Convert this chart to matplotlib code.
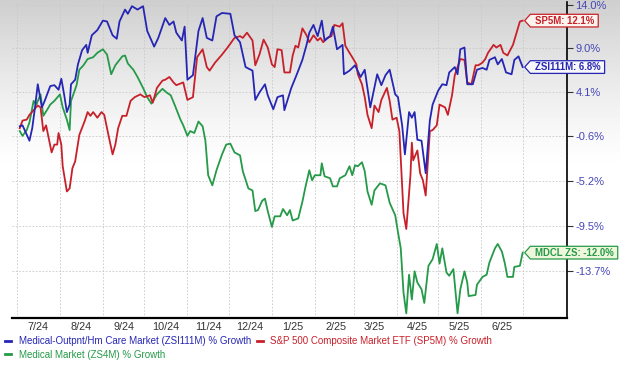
import numpy as np
import pandas as pd
import matplotlib
matplotlib.use("Agg")
import matplotlib.pyplot as plt
import matplotlib.dates as mdates
from matplotlib.path import Path
from matplotlib.ticker import FixedLocator

plt.rcParams['font.family'] = ['Liberation Sans', 'DejaVu Sans']

# --- data: days since 2024-07-01, % growth ---
blue_days = [2, 4, 9, 11, 13, 15, 18, 20, 24, 27, 30, 32, 34, 36, 38, 39, 42, 44, 47, 50,
             51, 54, 58, 62, 65, 69, 72, 74, 78, 80, 83, 87, 91, 94, 99, 102, 107, 110, 113, 115,
             119, 121, 123, 127, 131, 134, 137, 141, 144, 148, 154, 157, 161, 165, 170, 172, 175, 179, 181, 185,
             188, 192, 193, 198, 202, 206, 209, 211, 214, 217, 220, 222, 226, 228, 231, 235, 236, 240, 244, 248,
             251, 255, 260, 263, 266, 269, 273, 275, 278, 280, 283, 285, 287, 289, 292, 295, 298, 300, 304, 307,
             310, 312, 316, 318, 320, 323, 325, 329, 332, 336, 339, 341, 345, 347, 350, 353, 357, 359, 362, 365]
blue_vals = [0.4, 0.5, -1.1, 0.2, 2.4, 4.9, 2.4, 3.1, 4.7, 4.8, 4.3, 5.5, 3.8, 1.9, 2.7, 4.9, 5.4, 7.1, 8.7, 9.3,
             8.4, 10.4, 11.0, 12.1, 12.0, 10.4, 10.0, 12.0, 13.4, 12.9, 13.8, 13.4, 13.8, 10.9, 9.1, 10.1, 12.4, 11.6, 12.0, 10.7,
             9.8, 11.4, 5.4, 5.9, 10.9, 12.4, 10.1, 9.8, 12.6, 13.0, 12.9, 10.4, 9.6, 6.8, 6.4, 3.2, 4.0, 4.9, 3.7, 2.2,
             3.5, 3.7, 2.1, 4.5, 6.0, 7.6, 9.3, 10.7, 11.6, 10.3, 12.1, 9.8, 10.3, 11.4, 8.8, 9.3, 6.0, 6.4, 7.0, 5.7,
             6.5, 2.4, 6.0, 4.8, 5.9, 6.5, 3.8, 3.5, 0.5, -2.5, 1.9, 1.3, 1.9, -1.0, -1.1, -4.4, 1.0, 2.7, 4.2, 4.9,
             4.8, 6.2, 6.8, 6.0, 8.8, 9.0, 4.9, 4.9, 6.5, 6.7, 6.5, 7.6, 7.9, 7.1, 7.7, 6.2, 6.0, 7.6, 8.0, 6.8]

red_days = [2, 4, 7, 9, 12, 15, 17, 19, 21, 25, 27, 29, 30, 32, 33, 36, 38, 40, 42, 45,
            49, 51, 53, 55, 58, 61, 63, 66, 69, 71, 73, 76, 79, 82, 85, 89, 92, 96, 98, 101,
            105, 107, 110, 113, 115, 120, 123, 127, 130, 134, 137, 139, 143, 148, 152, 157, 161, 163, 166, 170,
            172, 175, 178, 181, 184, 186, 188, 191, 193, 197, 199, 201, 203, 206, 209, 211, 214, 217, 219, 221,
            224, 227, 229, 233, 235, 237, 240, 242, 245, 246, 249, 251, 253, 256, 258, 261, 263, 267, 269, 271,
            274, 276, 279, 281, 284, 285, 286, 289, 291, 293, 295, 298, 300, 303, 305, 309, 311, 314, 316, 320,
            323, 325, 328, 331, 333, 336, 338, 340, 344, 346, 349, 351, 354, 358, 361, 363, 365]
red_vals = [0.2, 1.0, 1.1, 1.6, 2.1, 2.6, 2.4, -0.1, 0.5, -2.3, -1.5, -1.5, -0.3, -1.5, -3.7, -6.2, -5.9, -3.9, -3.2, -0.5,
            1.0, 1.9, 1.5, 1.9, 1.3, 1.9, 1.6, -0.5, -2.5, -1.5, 0.2, 1.5, 1.5, 3.1, 3.5, 3.8, 3.5, 3.7, 2.9, 4.5,
            5.3, 5.4, 5.7, 5.1, 4.8, 5.1, 3.2, 3.5, 7.9, 8.8, 6.8, 6.4, 7.3, 8.2, 9.0, 10.1, 10.3, 10.1, 10.7, 9.8,
            7.0, 8.2, 9.9, 9.0, 7.1, 6.8, 8.8, 8.7, 6.2, 6.2, 8.1, 9.2, 9.0, 11.2, 10.4, 9.6, 10.4, 9.8, 10.1, 9.6,
            10.1, 10.3, 11.6, 11.4, 11.8, 9.2, 8.4, 7.9, 7.1, 6.0, 4.9, 3.5, 1.6, 0.2, 2.6, 1.9, 3.2, 4.5, 3.1, 1.1,
            1.3, -0.1, -8.3, -9.8, -4.6, -1.3, -3.1, -2.1, -4.4, -5.1, -6.6, -0.1, 0.0, 0.5, 2.7, 2.4, 1.6, 3.7, 5.9, 7.7,
            7.6, 5.1, 4.9, 7.0, 7.0, 7.3, 7.7, 8.4, 9.3, 9.0, 9.3, 8.4, 8.1, 9.3, 10.9, 12.0, 12.1]

green_days = [2, 4, 7, 9, 12, 14, 17, 19, 22, 24, 27, 31, 33, 36, 38, 39, 40, 43, 45, 48,
              51, 55, 58, 62, 65, 68, 71, 76, 78, 80, 84, 87, 91, 94, 97, 101, 105, 108, 111, 114,
              118, 120, 123, 125, 128, 131, 134, 136, 138, 141, 144, 148, 151, 154, 157, 161, 163, 167, 170, 172,
              174, 177, 179, 181, 184, 186, 190, 192, 195, 197, 199, 203, 206, 208, 211, 213, 215, 219, 220, 222,
              226, 228, 231, 233, 237, 240, 242, 244, 246, 249, 251, 253, 256, 258, 262, 266, 269, 273, 275, 277,
              279, 281, 283, 285, 287, 289, 292, 294, 297, 300, 303, 305, 307, 310, 312, 315, 318, 320, 323, 325,
              326, 331, 332, 336, 339, 341, 345, 347, 350, 352, 354, 358, 359, 363, 365]
green_vals = [-0.1, -0.6, 0.0, 0.8, 3.1, 2.7, 3.8, 1.5, 2.2, 2.7, 3.1, 3.8, 2.4, 1.1, 0.0, 3.1, 3.5, 4.8, 6.5, 7.0,
              7.7, 7.9, 8.4, 8.8, 8.2, 6.0, 7.0, 8.0, 8.1, 7.2, 6.5, 5.7, 4.5, 3.5, 2.8, 3.8, 4.4, 4.0, 3.7, 2.6,
              1.1, 0.5, -0.6, -0.1, -0.3, 0.9, 0.4, -1.1, -4.6, -5.6, -4.1, -2.5, -1.5, -1.4, -2.3, -2.6, -4.2, -5.9, -6.1, -8.1,
              -8.0, -7.1, -6.9, -8.1, -9.6, -8.6, -8.6, -7.9, -8.5, -8.0, -9.0, -8.8, -7.2, -5.9, -4.1, -5.1, -4.6, -4.6, -3.4, -4.7,
              -4.9, -5.7, -5.7, -4.9, -4.6, -3.7, -4.6, -3.6, -3.7, -3.3, -4.2, -6.2, -7.5, -6.1, -5.4, -5.6, -7.3, -8.5, -10.1, -11.6,
              -15.6, -17.4, -14.0, -16.2, -13.7, -14.7, -15.3, -16.5, -13.2, -12.6, -11.2, -13.0, -11.6, -13.8, -14.1, -13.5, -17.4, -15.3, -13.7, -14.7,
              -15.9, -15.8, -14.9, -14.2, -14.0, -12.9, -11.6, -11.2, -11.9, -12.9, -14.2, -14.2, -13.3, -13.2, -12.0]

ytick_vals = [14.0, 9.0, 4.1, -0.6, -5.2, -9.5, -13.7]
month_labels = ["7/24", "8/24", "9/24", "10/24", "11/24", "12/24", "1/25", "2/25", "3/25", "4/25", "5/25", "6/25"]

start = pd.Timestamp("2024-07-01")
blue_x = start + pd.to_timedelta(blue_days, unit="D")
red_x = start + pd.to_timedelta(red_days, unit="D")
green_x = start + pd.to_timedelta(green_days, unit="D")

BLUE = "#2626b4"
RED = "#c8202a"
GREEN = "#259a48"


def tag_box(x0, y0, width, height, mutation_size):
    # rectangle with a pointed left side
    padx = 0.45 * mutation_size
    pady = 0.14 * mutation_size
    x0 -= padx
    y0 -= pady
    width += 2 * padx
    height += 2 * pady
    tip = height * 0.45
    verts = [(x0, y0), (x0 + width, y0), (x0 + width, y0 + height),
             (x0, y0 + height), (x0 - tip, y0 + height / 2), (x0, y0)]
    return Path(verts, closed=True)


fig = plt.figure(figsize=(6.2, 3.65), dpi=100)

# grey-to-white background gradient
bg = fig.add_axes([0, 0, 1, 1])
bg.set_zorder(0)
rows = np.linspace(0, 1, 365)
shade = 1 - 0.19 * np.clip(1 - rows / 0.47, 0, 1) ** 1.3
grad = np.repeat(shade[:, None], 10, axis=1)
bg.imshow(grad, cmap="gray", vmin=0, vmax=1, aspect="auto", extent=[0, 1, 0, 1], origin="upper")
bg.axis("off")

ax = fig.add_axes([12 / 620, 1 - 318 / 365, (567 - 12) / 620, 316 / 365])
ax.set_zorder(1)
ax.set_facecolor("none")

ax.set_yscale("function", functions=(lambda v: np.log1p(np.asarray(v) / 100),
                                     lambda t: 100 * np.expm1(np.asarray(t))))

ax.plot(green_x, green_vals, color=GREEN, lw=1.3, label="Medical Market (ZS4M) % Growth", zorder=3)
ax.plot(red_x, red_vals, color=RED, lw=1.3, label="S&P 500 Composite Market ETF (SP5M) % Growth", zorder=3)
ax.plot(blue_x, blue_vals, color=BLUE, lw=1.3, label="Medical-Outpnt/Hm Care Market (ZSI111M) % Growth", zorder=3)

ax.set_ylim(-17.8, 14.3)
ax.set_xlim(start - pd.Timedelta(days=3.6), start + pd.Timedelta(days=397))

# axes styling
for side in ["left", "top"]:
    ax.spines[side].set_visible(False)
ax.spines["bottom"].set_linewidth(1.6)
ax.spines["right"].set_linewidth(1.2)

ax.yaxis.tick_right()
ax.yaxis.set_major_locator(FixedLocator(ytick_vals))
ax.yaxis.set_minor_locator(FixedLocator([]))
ax.set_yticklabels([f"{v:.1f}%" for v in ytick_vals])
ax.tick_params(axis="y", direction="out", length=4, width=0.8, color="#333333",
               labelcolor="#4646b8", labelsize=8, pad=2)

mid_months = [start + pd.DateOffset(months=i, days=15) for i in range(12)]
ax.xaxis.set_major_locator(FixedLocator(mdates.date2num(mid_months)))
ax.set_xticklabels(month_labels)
ax.xaxis.set_minor_locator(mdates.MonthLocator(bymonthday=1))
ax.tick_params(axis="x", which="major", length=0, labelsize=7.8, labelcolor="#333333", pad=3)
ax.tick_params(axis="x", which="minor", length=0)

ax.grid(axis="x", which="minor", color="#c8c8c8", lw=0.6, ls=(0, (2, 2)))
ax.grid(axis="y", which="major", color="#c8c8c8", lw=0.6, ls=(0, (2, 2)))
ax.grid(axis="x", which="major", visible=False)

# end-of-line tags
tags = [(blue_x[-1], blue_vals[-1], f"ZSI111M: {blue_vals[-1]:.1f}%", BLUE, "#f6f6fb"),
        (red_x[-1], red_vals[-1], f"SP5M: {red_vals[-1]:.1f}%", RED, "#fbf3ee"),
        (green_x[-1], green_vals[-1], f"MDCL ZS: {green_vals[-1]:.1f}%", GREEN, "#eef6dc")]
for x, y, txt, col, fc in tags:
    ax.annotate(txt, xy=(x, y), xytext=(12, 0), textcoords="offset pixels",
                ha="left", va="center", fontsize=6.9, fontweight="bold", color=col,
                bbox=dict(boxstyle=tag_box, fc=fc, ec=col, lw=0.9), zorder=6,
                annotation_clip=False)

# legend
h = {l.get_label(): l for l in ax.get_lines()}
order = ["Medical-Outpnt/Hm Care Market (ZSI111M) % Growth",
         "Medical Market (ZS4M) % Growth",
         "S&P 500 Composite Market ETF (SP5M) % Growth"]
leg = fig.legend([h[k] for k in order], order, ncol=2, loc="upper left",
                 bbox_to_anchor=(5 / 620, 1 - 336 / 365), frameon=False, fontsize=7,
                 handlelength=0.6, handletextpad=0.8, columnspacing=0.6,
                 labelspacing=0.4, borderaxespad=0, borderpad=0, labelcolor="linecolor")
for line in leg.get_lines():
    line.set_linewidth(2)

fig.savefig("out.png", dpi=100)
